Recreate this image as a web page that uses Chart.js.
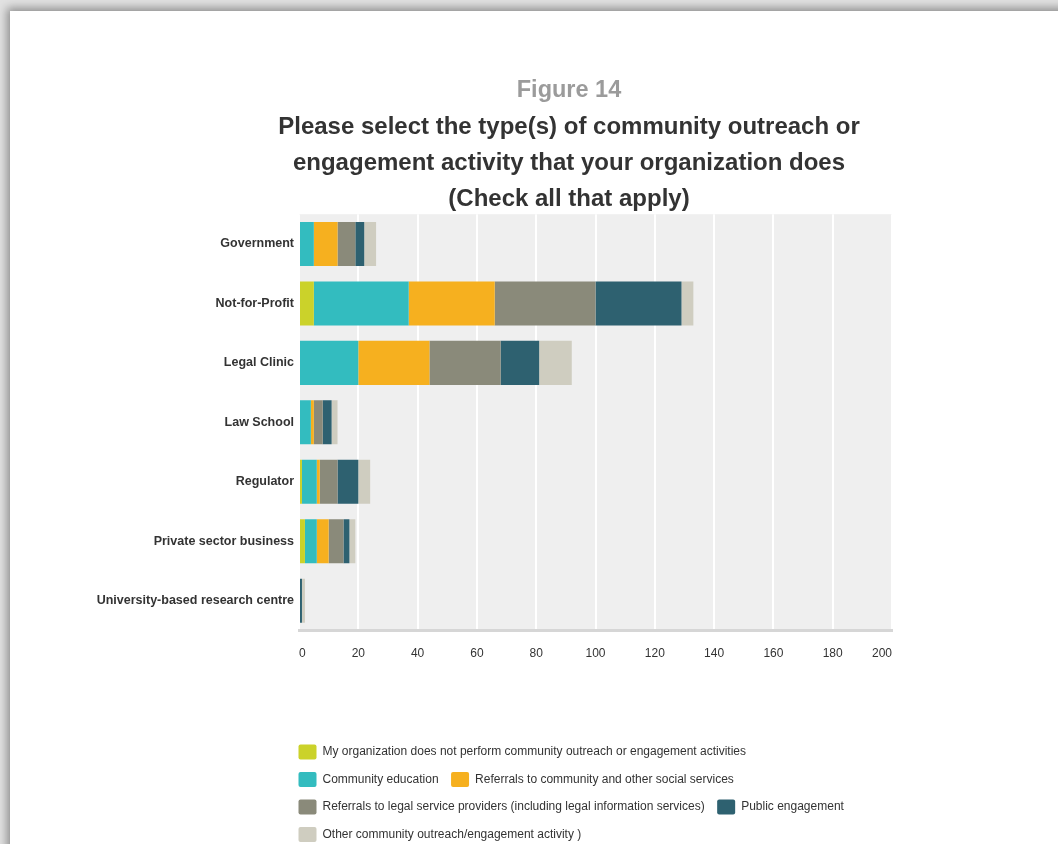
<!DOCTYPE html>
<html>
<head>
<meta charset="utf-8">
<script src="https://cdn.jsdelivr.net/npm/chart.js@4.4.1/dist/chart.umd.min.js"></script>
<style>
html,body{margin:0;padding:0;width:1058px;height:844px;overflow:hidden;background:#e2e2e2;}
#page{position:absolute;left:10px;top:11px;width:1100px;height:900px;background:#fff;box-shadow:0 0 9px 3px rgba(0,0,0,0.38);}
#wrap{position:absolute;left:0;top:0;width:1058px;height:844px;}
</style>
</head>
<body>
<div id="page"></div>
<div id="wrap"><canvas id="c" width="1058" height="844"></canvas></div>
<script>
const categories = ['Government', 'Not-for-Profit', 'Legal Clinic', 'Law School', 'Regulator', 'Private sector business', 'University-based research centre'];
const seriesNames = [
  'My organization does not perform community outreach or engagement activities',
  'Community education',
  'Referrals to community and other social services',
  'Referrals to legal service providers (including legal information services)',
  'Public engagement',
  'Other community outreach/engagement activity )'
];
const noOutreach         = [0, 5, 0, 0, 1, 2, 0];
const communityEducation = [5, 32, 20, 4, 5, 4, 0];
const referralsCommunity = [8, 29, 24, 1, 1, 4, 0];
const referralsLegal     = [6, 34, 24, 3, 6, 5, 0];
const publicEngagement   = [3, 29, 13, 3, 7, 2, 1];
const otherActivity      = [4, 4, 11, 2, 4, 2, 1];
const xTickValues = [0, 20, 40, 60, 80, 100, 120, 140, 160, 180, 200];
const titleText = 'Figure 14';
const subtitleLines = ['Please select the type(s) of community outreach or', 'engagement activity that your organization does', '(Check all that apply)'];

const colors = ['#cbd22a', '#33bcbf', '#f6b01f', '#8a8a7a', '#2e6170', '#cfcdc0'];
const seriesValues = [noOutreach, communityEducation, referralsCommunity, referralsLegal, publicEngagement, otherActivity];

const plotBg = {
  id: 'plotBg',
  beforeDraw(chart) {
    const {ctx, chartArea: a} = chart;
    ctx.save();
    ctx.fillStyle = '#efefef';
    ctx.fillRect(a.left, a.top, a.right - a.left, a.bottom - a.top);
    ctx.restore();
  }
};
const boxShift = {
  id: 'boxShift',
  afterLayout(chart) {
    const l = chart.legend;
    if (l) { l.left -= 13; l.right -= 13; }
    for (const b of chart.boxes) {
      if (b === l || b === chart.scales.x || b === chart.scales.y) continue;
      if (b.options && b.options.position === 'top') { b.left += 83; b.right += 83; }
    }
  }
};

Chart.defaults.font.family = '"Liberation Sans", Arial, sans-serif';

new Chart(document.getElementById('c'), {
  type: 'bar',
  data: {
    labels: categories,
    datasets: seriesValues.map((vals, i) => ({
      label: seriesNames[i],
      data: vals,
      backgroundColor: colors[i],
      borderWidth: 0,
      barPercentage: 0.74,
      categoryPercentage: 1.0
    }))
  },
  options: {
    responsive: false,
    animation: false,
    indexAxis: 'y',
    layout: {padding: {left: 80, right: 166, top: 0, bottom: -8}},
    scales: {
      x: {
        stacked: true, min: 0, max: 200,
        afterBuildTicks(s) { s.ticks = xTickValues.map(v => ({value: v})); },
        ticks: {color: '#333', font: {size: 12}, padding: 16, align: 'inner'},
        grid: {color: '#ffffff', lineWidth: 2, drawTicks: false},
        border: {display: true, color: '#d6d6d6', width: 3},
        afterFit(s) { s.height = 101.5; }
      },
      y: {
        stacked: true,
        ticks: {color: '#333', font: {size: 12.5, weight: 'bold'}, padding: 5},
        grid: {display: false, drawTicks: false},
        border: {display: false},
        afterFit(s) { s.width = 219; }
      }
    },
    plugins: {
      title: {display: true, text: titleText, color: '#9b9b9b', font: {size: 23.5, weight: 'bold'}, padding: {top: 76, bottom: 5}},
      subtitle: {display: true, text: subtitleLines, color: '#333', font: {size: 24, weight: 'bold', lineHeight: 1.5}, padding: {top: 0, bottom: -3}},
      legend: {
        position: 'bottom', align: 'start', fullSize: false,
        labels: {boxWidth: 18, boxHeight: 15, padding: 12.5, color: '#333', font: {size: 12}, useBorderRadius: true, borderRadius: 2}
      },
      tooltip: {enabled: false}
    }
  },
  plugins: [plotBg, boxShift]
});
</script>
</body>
</html>
